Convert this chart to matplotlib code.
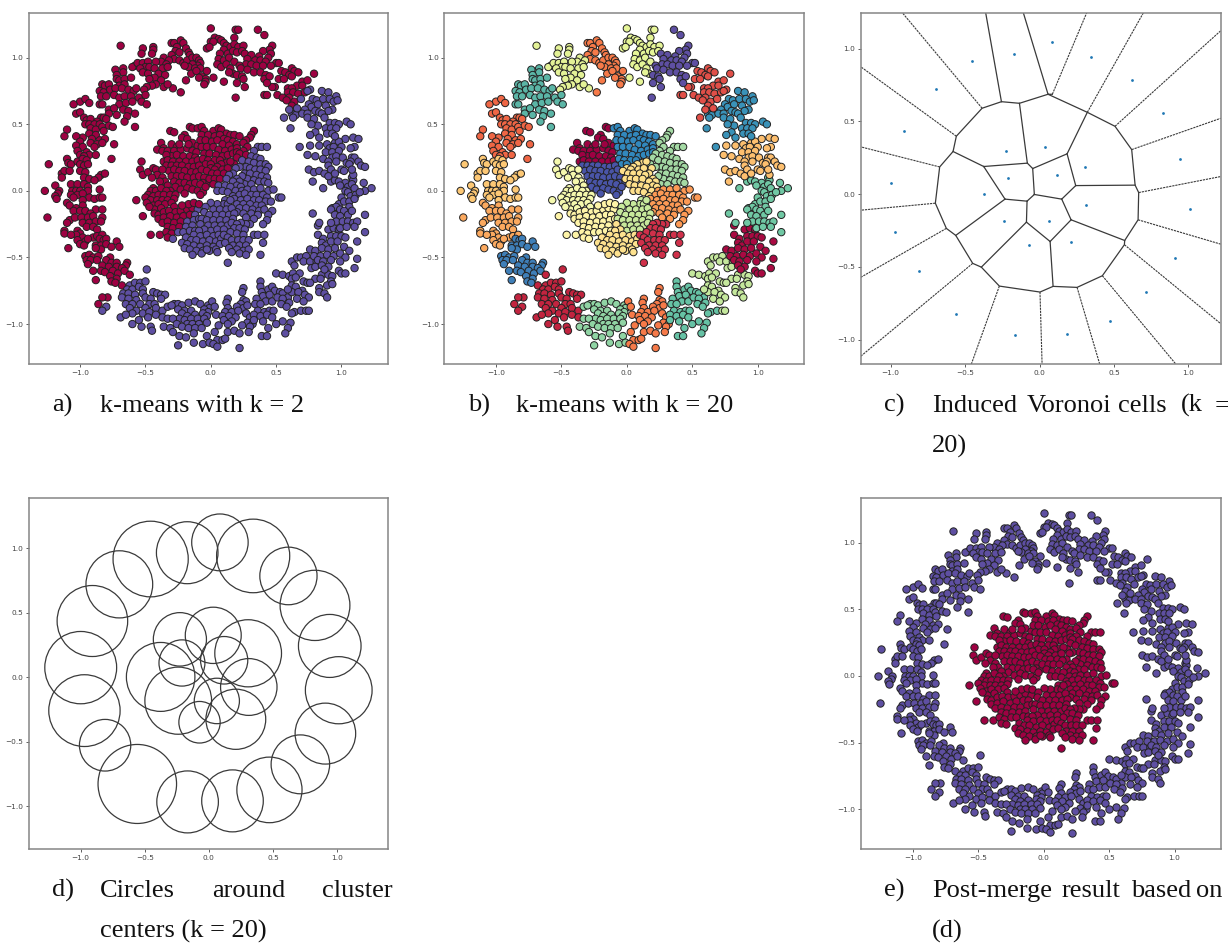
import matplotlib
matplotlib.use('Agg')
import matplotlib.pyplot as plt
import numpy as np

top_a = [(0.0,1.22),(0.19,1.21),(0.21,1.21),(0.18,1.15),(0.03,1.15),(0.06,1.14),(0.08,1.13),(0.0,1.12),(0.02,1.12),(-0.03,1.07),(-0.01,1.08),(0.1,1.11),(0.12,1.09),(0.15,1.08),(0.18,1.1),(0.21,1.08),(0.25,1.09),(0.1,1.06),(0.07,1.03),(0.13,1.03),(0.17,1.05),(0.2,1.04),(0.24,1.05),(0.06,0.99),(0.1,0.98),(0.14,1.0),(0.18,0.97),(0.05,0.95),(0.08,0.93),(0.12,0.95),(0.15,0.92),(0.02,0.85),(0.1,0.82),(0.17,0.88),(0.14,0.89)]
top_b = [(-0.3,1.11),(-0.28,1.11),(-0.23,1.13),(-0.21,1.11),(-0.26,1.08),(-0.27,1.05),(-0.24,1.04),(-0.19,1.07),(-0.17,1.04),(-0.16,1.02),(-0.3,1.02),(-0.28,0.99),(-0.24,0.98),(-0.21,0.96),(-0.18,0.98),(-0.14,1.0),(-0.11,1.0),(-0.09,0.98),(-0.08,0.96),(-0.1,0.94),(-0.14,0.95),(-0.17,0.93),(-0.2,0.94),(-0.12,0.92),(-0.08,0.92),(-0.03,0.9),(-0.15,0.88),(-0.11,0.9),(-0.07,0.86),(-0.04,0.84),(-0.04,0.82),(-0.19,0.83),(-0.09,0.85),(-0.23,0.74),(-0.05,0.8)]
top_c = [(-0.69,1.09),(-0.52,1.07),(-0.53,1.03),(-0.44,1.08),(-0.44,1.06),(-0.45,1.03),(-0.36,1.0),(-0.38,0.97),(-0.32,0.98),(-0.34,0.95),(-0.58,0.94),(-0.6,0.93),(-0.56,0.96),(-0.52,0.96),(-0.48,0.97),(-0.42,0.97),(-0.5,0.93),(-0.54,0.92),(-0.47,0.93),(-0.43,0.92),(-0.37,0.92),(-0.33,0.93),(-0.52,0.89),(-0.48,0.88),(-0.4,0.88),(-0.35,0.87),(-0.43,0.85),(-0.38,0.83),(-0.47,0.84),(-0.42,0.8),(-0.45,0.79),(-0.49,0.78),(-0.36,0.78),(-0.29,0.77),(-0.51,0.76),(-0.33,0.8)]
top_d = [(-0.73,0.91),(-0.67,0.92),(-0.67,0.89),(-0.72,0.87),(-0.72,0.84),(-0.7,0.83),(-0.66,0.84),(-0.61,0.85),(-0.83,0.8),(-0.81,0.79),(-0.78,0.8),(-0.7,0.79),(-0.66,0.8),(-0.85,0.75),(-0.82,0.74),(-0.77,0.76),(-0.73,0.77),(-0.68,0.77),(-0.63,0.76),(-0.59,0.75),(-0.57,0.77),(-0.84,0.71),(-0.8,0.71),(-0.74,0.72),(-0.7,0.7),(-0.66,0.71),(-0.61,0.71),(-0.55,0.7),(-0.5,0.72),(-0.85,0.65),(-0.83,0.65),(-0.7,0.65),(-0.65,0.66),(-0.6,0.67),(-0.53,0.67),(-0.49,0.65),(-0.78,0.61),(-0.74,0.62),(-0.67,0.61),(-0.63,0.6),(-0.78,0.58),(-0.72,0.57),(-0.64,0.56),(-0.58,0.58),(-0.66,0.52),(-0.58,0.48)]
left_a = [(-1.0,0.67),(-1.05,0.65),(-0.96,0.69),(-0.93,0.66),(-1.03,0.58),(-1.0,0.59),(-0.97,0.55),(-0.95,0.53),(-0.92,0.54),(-0.84,0.55),(-0.82,0.55),(-0.8,0.54),(-0.87,0.52),(-0.96,0.5),(-0.93,0.5),(-0.89,0.5),(-0.85,0.5),(-1.1,0.46),(-1.12,0.41),(-0.92,0.47),(-0.88,0.46),(-0.83,0.48),(-0.78,0.49),(-0.75,0.48),(-0.93,0.43),(-0.88,0.42),(-0.82,0.45),(-0.98,0.4),(-1.03,0.41),(-0.91,0.39),(-0.85,0.38),(-0.81,0.39),(-1.0,0.37),(-0.92,0.36),(-0.87,0.35),(-0.83,0.36),(-0.74,0.35),(-1.03,0.34),(-0.98,0.33),(-0.89,0.33),(-1.02,0.3),(-0.95,0.29),(-1.0,0.27),(-0.93,0.27),(-0.97,0.26),(-0.88,0.27),(-0.76,0.24)]
left_b = [(-1.24,0.2),(-1.1,0.24),(-1.09,0.21),(-1.07,0.2),(-1.02,0.22),(-0.98,0.24),(-0.95,0.23),(-1.0,0.2),(-0.97,0.19),(-0.94,0.2),(-1.14,0.13),(-1.12,0.15),(-1.08,0.15),(-1.14,0.1),(-1.0,0.15),(-0.96,0.14),(-0.84,0.12),(-0.81,0.13),(-0.86,0.1),(-0.97,0.1),(-0.93,0.09),(-0.89,0.08),(-1.19,0.04),(-1.07,0.05),(-1.02,0.05),(-0.97,0.05),(-0.94,0.03),(-1.27,0.0),(-1.16,-0.0),(-1.06,0.0),(-1.03,0.0),(-1.0,0.0),(-0.94,0.0),(-0.85,0.01),(-1.17,-0.02),(-1.19,-0.04),(-1.18,-0.06),(-1.07,-0.03),(-1.02,-0.03),(-0.98,-0.02),(-1.05,-0.05),(-0.93,-0.05),(-0.89,-0.06),(-0.85,-0.05),(-0.83,-0.05),(-0.98,-0.07)]
left_c = [(-1.1,-0.09),(-1.08,-0.11),(-1.03,-0.13),(-0.98,-0.11),(-1.25,-0.2),(-1.05,-0.15),(-1.0,-0.15),(-0.96,-0.15),(-0.88,-0.14),(-0.83,-0.14),(-0.92,-0.17),(-1.08,-0.22),(-1.1,-0.24),(-1.04,-0.2),(-0.99,-0.2),(-0.94,-0.2),(-0.9,-0.19),(-0.83,-0.2),(-0.98,-0.24),(-0.93,-0.24),(-0.88,-0.23),(-0.84,-0.23),(-0.95,-0.27),(-0.9,-0.27),(-0.87,-0.29),(-1.12,-0.3),(-1.12,-0.32),(-1.02,-0.3),(-1.0,-0.32),(-1.03,-0.33),(-0.98,-0.35),(-1.07,-0.33),(-0.96,-0.38),(-0.9,-0.35),(-0.87,-0.34),(-0.83,-0.33),(-1.02,-0.37),(-1.0,-0.4),(-0.97,-0.41),(-1.09,-0.43),(-0.94,-0.36)]
left_d = [(-0.85,-0.36),(-0.82,-0.37),(-0.8,-0.36),(-0.72,-0.38),(-0.88,-0.41),(-0.84,-0.41),(-0.8,-0.4),(-0.76,-0.42),(-0.7,-0.42),(-0.84,-0.44),(-0.88,-0.43),(-0.96,-0.49),(-0.93,-0.48),(-0.9,-0.5),(-0.86,-0.49),(-0.77,-0.5),(-0.95,-0.52),(-0.92,-0.52),(-0.87,-0.52),(-0.8,-0.52),(-0.76,-0.54),(-0.72,-0.54),(-0.64,-0.54),(-0.65,-0.56),(-0.94,-0.55),(-0.83,-0.56),(-0.78,-0.57),(-0.72,-0.57),(-0.68,-0.58),(-0.9,-0.6),(-0.84,-0.6),(-0.81,-0.61),(-0.75,-0.6),(-0.71,-0.62),(-0.66,-0.6),(-0.77,-0.64),(-0.72,-0.66),(-0.88,-0.67),(-0.76,-0.68),(-0.73,-0.69)]
bot_a = [(-0.62,-0.63),(-0.49,-0.59),(-0.68,-0.71),(-0.62,-0.71),(-0.58,-0.69),(-0.54,-0.69),(-0.5,-0.68),(-0.64,-0.74),(-0.6,-0.74),(-0.55,-0.72),(-0.52,-0.74),(-0.67,-0.77),(-0.63,-0.77),(-0.58,-0.78),(-0.52,-0.77),(-0.44,-0.76),(-0.41,-0.77),(-0.38,-0.78),(-0.35,-0.78),(-0.79,-0.8),(-0.83,-0.8),(-0.68,-0.8),(-0.63,-0.81),(-0.57,-0.82),(-0.5,-0.8),(-0.46,-0.81),(-0.38,-0.81),(-0.65,-0.85),(-0.6,-0.85),(-0.54,-0.85),(-0.47,-0.85),(-0.43,-0.85),(-0.86,-0.85),(-0.8,-0.87),(-0.83,-0.9),(-0.62,-0.88),(-0.57,-0.9),(-0.5,-0.88),(-0.42,-0.88),(-0.37,-0.9),(-0.6,-0.92),(-0.52,-0.92),(-0.47,-0.91),(-0.42,-0.93),(-0.37,-0.95),(-0.69,-0.95),(-0.65,-0.93),(-0.55,-0.97),(-0.48,-0.95),(-0.6,-1.0),(-0.53,-1.02),(-0.46,-1.02),(-0.45,-1.05)]
bot_b = [(-0.28,-0.85),(-0.25,-0.85),(-0.22,-0.86),(-0.33,-0.87),(-0.3,-0.86),(-0.17,-0.84),(-0.12,-0.83),(-0.08,-0.85),(-0.02,-0.86),(-0.01,-0.88),(-0.25,-0.89),(-0.2,-0.9),(-0.15,-0.9),(-0.05,-0.89),(-0.02,-0.91),(-0.22,-0.92),(-0.18,-0.94),(-0.12,-0.93),(-0.06,-0.92),(-0.03,-0.94),(-0.24,-0.96),(-0.2,-0.97),(-0.15,-0.96),(-0.1,-0.96),(-0.05,-0.96),(-0.33,-0.96),(-0.29,-0.96),(-0.26,-1.0),(-0.18,-1.0),(-0.14,-1.0),(-0.09,-1.0),(-0.03,-0.99),(-0.36,-1.02),(-0.31,-1.03),(-0.29,-1.06),(-0.22,-1.02),(-0.17,-1.03),(-0.12,-1.03),(-0.07,-1.03),(-0.24,-1.09),(-0.19,-1.1),(-0.13,-1.07),(-0.13,-1.14),(-0.25,-1.16),(-0.06,-1.15),(-0.03,-1.09),(-0.01,-1.14)]
bot_c = [(0.25,-0.73),(0.24,-0.76),(0.13,-0.81),(0.12,-0.84),(0.25,-0.82),(0.27,-0.83),(0.23,-0.85),(0.13,-0.88),(0.2,-0.87),(0.25,-0.88),(0.28,-0.86),(0.01,-0.83),(0.03,-0.87),(0.11,-0.91),(0.16,-0.91),(0.21,-0.9),(0.27,-0.92),(0.04,-0.93),(0.09,-0.94),(0.14,-0.94),(0.19,-0.95),(0.3,-0.95),(0.1,-0.97),(0.16,-0.98),(0.28,-0.99),(0.32,-1.0),(0.06,-1.01),(0.13,-1.0),(0.24,-1.01),(0.3,-1.02),(0.03,-1.06),(0.13,-1.06),(0.18,-1.05),(0.22,-1.07),(0.29,-1.06),(0.05,-1.12),(0.09,-1.12),(0.11,-1.11),(0.02,-1.15),(0.05,-1.17),(0.22,-1.18)]
bot_d = [(0.38,-0.68),(0.38,-0.72),(0.39,-0.76),(0.44,-0.74),(0.47,-0.72),(0.49,-0.75),(0.4,-0.79),(0.45,-0.78),(0.53,-0.76),(0.55,-0.77),(0.59,-0.8),(0.35,-0.81),(0.42,-0.83),(0.47,-0.83),(0.51,-0.8),(0.55,-0.81),(0.6,-0.84),(0.34,-0.85),(0.38,-0.85),(0.54,-0.85),(0.58,-0.87),(0.64,-0.91),(0.36,-0.9),(0.41,-0.91),(0.45,-0.9),(0.48,-0.9),(0.33,-0.93),(0.38,-0.94),(0.43,-0.93),(0.47,-0.95),(0.62,-0.92),(0.33,-0.97),(0.4,-0.98),(0.55,-0.98),(0.61,-0.99),(0.5,-1.0),(0.44,-1.03),(0.39,-1.09),(0.43,-1.09),(0.59,-1.03),(0.57,-1.07),(0.69,-0.9)]
right_a = [(0.62,-0.53),(0.66,-0.5),(0.69,-0.5),(0.73,-0.49),(0.64,-0.56),(0.71,-0.53),(0.76,-0.53),(0.81,-0.53),(0.5,-0.62),(0.55,-0.63),(0.6,-0.64),(0.63,-0.62),(0.68,-0.62),(0.77,-0.58),(0.8,-0.57),(0.62,-0.66),(0.65,-0.65),(0.71,-0.68),(0.74,-0.69),(0.8,-0.66),(0.85,-0.63),(0.9,-0.63),(0.62,-0.71),(0.65,-0.72),(0.7,-0.75),(0.76,-0.69),(0.84,-0.66),(0.93,-0.64),(0.92,-0.68),(0.62,-0.76),(0.67,-0.76),(0.72,-0.78),(0.75,-0.8),(0.83,-0.73),(0.89,-0.71),(0.93,-0.7),(0.66,-0.81),(0.71,-0.83),(0.83,-0.76),(0.87,-0.77),(0.89,-0.8),(0.73,-0.9),(0.75,-0.9),(0.59,-0.74)]
right_b = [(0.82,-0.26),(0.9,-0.29),(0.94,-0.28),(0.98,-0.29),(0.82,-0.33),(0.86,-0.36),(0.92,-0.34),(0.96,-0.34),(1.0,-0.34),(1.03,-0.35),(1.12,-0.38),(0.85,-0.39),(0.88,-0.41),(0.92,-0.38),(0.97,-0.38),(1.02,-0.42),(0.76,-0.44),(0.8,-0.45),(0.85,-0.43),(0.9,-0.44),(0.95,-0.43),(1.06,-0.45),(0.79,-0.49),(0.84,-0.49),(0.89,-0.48),(0.94,-0.49),(0.99,-0.47),(1.03,-0.5),(1.12,-0.51),(0.82,-0.52),(0.86,-0.53),(0.92,-0.52),(0.99,-0.53),(0.85,-0.56),(0.9,-0.57),(0.98,-0.6),(1.0,-0.62),(1.03,-0.62),(1.1,-0.58),(0.87,-0.59)]
right_c = [(0.92,0.07),(0.95,0.08),(0.98,0.07),(1.03,0.06),(1.08,0.1),(1.09,0.08),(0.86,0.02),(0.99,0.04),(1.05,0.03),(1.08,0.05),(1.17,0.06),(1.03,0.0),(1.05,-0.01),(1.1,0.02),(1.18,0.0),(1.23,0.02),(1.0,-0.05),(1.07,-0.04),(1.11,-0.03),(1.14,-0.01),(0.98,-0.1),(1.02,-0.08),(1.06,-0.08),(1.1,-0.06),(0.93,-0.13),(0.96,-0.12),(0.99,-0.14),(1.06,-0.12),(1.02,-0.15),(0.78,-0.17),(0.92,-0.14),(0.95,-0.18),(0.99,-0.19),(1.05,-0.18),(1.08,-0.15),(1.18,-0.18),(0.96,-0.23),(1.01,-0.23),(1.05,-0.23),(1.09,-0.24),(1.12,-0.23),(0.83,-0.24),(0.92,-0.24),(0.99,-0.28),(1.1,-0.27),(1.18,-0.31),(1.04,-0.27)]
right_d = [(1.03,0.39),(1.09,0.4),(1.13,0.39),(0.95,0.36),(0.98,0.37),(1.0,0.33),(0.76,0.34),(0.83,0.34),(0.89,0.35),(0.91,0.32),(0.94,0.33),(1.1,0.33),(1.07,0.32),(0.88,0.29),(0.93,0.29),(0.98,0.3),(0.74,0.27),(0.8,0.26),(0.93,0.25),(0.96,0.26),(1.01,0.25),(1.08,0.25),(1.1,0.25),(0.86,0.24),(0.9,0.22),(0.96,0.22),(1.04,0.21),(1.07,0.22),(1.13,0.22),(1.15,0.19),(1.18,0.18),(0.9,0.19),(1.0,0.16),(1.02,0.15),(1.06,0.2),(0.75,0.16),(0.79,0.14),(0.83,0.15),(0.87,0.13),(0.92,0.16),(0.9,0.11),(0.95,0.13),(1.09,0.12),(1.08,0.16),(0.78,0.07)]
upper_a = [(0.85,0.75),(0.9,0.74),(0.96,0.71),(0.78,0.69),(0.81,0.68),(0.86,0.69),(0.91,0.69),(0.94,0.67),(0.97,0.68),(0.75,0.65),(0.77,0.63),(0.82,0.65),(0.88,0.64),(0.93,0.61),(0.72,0.61),(0.8,0.6),(0.83,0.59),(0.9,0.6),(0.62,0.58),(0.65,0.57),(0.7,0.58),(0.74,0.58),(0.85,0.58),(0.63,0.55),(0.74,0.55),(0.79,0.54),(0.87,0.55),(0.91,0.51),(0.95,0.51),(0.98,0.5),(0.82,0.49),(0.77,0.5),(0.88,0.47),(0.92,0.47),(0.96,0.47),(0.61,0.47),(0.8,0.44),(0.76,0.42),(0.89,0.43),(0.93,0.43),(0.83,0.4),(0.95,0.41),(1.04,0.52),(1.07,0.5),(0.68,0.33)]
upper_b = [(0.79,0.88),(0.54,0.9),(0.62,0.92),(0.64,0.9),(0.67,0.89),(0.57,0.89),(0.6,0.87),(0.52,0.84),(0.56,0.84),(0.62,0.86),(0.7,0.82),(0.74,0.83),(0.66,0.79),(0.7,0.79),(0.59,0.77),(0.62,0.77),(0.76,0.76),(0.59,0.74),(0.63,0.74),(0.67,0.73),(0.72,0.74),(0.74,0.75),(0.41,0.72),(0.43,0.72),(0.51,0.72),(0.55,0.7),(0.6,0.7),(0.64,0.67),(0.69,0.69),(0.62,0.64),(0.56,0.55),(0.49,0.78),(0.47,0.78),(0.66,0.62),(0.58,0.68),(0.6,0.61)]
upper_c = [(0.36,1.21),(0.41,1.17),(0.47,1.09),(0.45,1.06),(0.4,1.05),(0.26,1.03),(0.31,1.02),(0.37,1.01),(0.46,1.03),(0.44,1.0),(0.28,0.99),(0.34,0.98),(0.38,0.98),(0.42,0.97),(0.5,0.96),(0.52,0.96),(0.27,0.95),(0.31,0.95),(0.35,0.94),(0.4,0.94),(0.46,0.94),(0.22,0.94),(0.23,0.92),(0.28,0.91),(0.33,0.89),(0.38,0.89),(0.42,0.87),(0.2,0.87),(0.24,0.86),(0.41,0.84),(0.45,0.86),(0.43,0.81),(0.2,0.81),(0.25,0.84),(0.26,0.78),(0.19,0.7)]
inner_a = [(-0.31,0.45),(-0.28,0.44),(-0.16,0.48),(-0.14,0.47),(-0.2,0.42),(-0.22,0.4),(-0.38,0.36),(-0.36,0.32),(-0.41,0.31),(-0.3,0.35),(-0.26,0.33),(-0.18,0.39),(-0.14,0.36),(-0.1,0.34),(-0.37,0.3),(-0.33,0.3),(-0.28,0.3),(-0.23,0.31),(-0.18,0.32),(-0.14,0.3),(-0.11,0.29),(-0.3,0.26),(-0.26,0.27),(-0.21,0.26),(-0.16,0.26),(-0.12,0.25),(-0.34,0.27),(-0.36,0.22),(-0.33,0.23),(-0.29,0.22),(-0.24,0.22),(-0.19,0.22),(-0.14,0.22),(-0.1,0.23),(-0.17,0.35),(-0.24,0.35)]
inner_b = [(-0.1,0.47),(-0.07,0.48),(-0.05,0.45),(0.02,0.45),(0.06,0.47),(0.08,0.46),(0.12,0.43),(0.15,0.42),(0.18,0.42),(0.22,0.41),(-0.07,0.42),(-0.02,0.42),(0.03,0.41),(0.07,0.42),(0.1,0.39),(0.13,0.38),(0.17,0.37),(-0.08,0.38),(-0.04,0.38),(0.01,0.37),(0.05,0.38),(0.09,0.35),(0.14,0.34),(0.2,0.35),(-0.07,0.33),(-0.03,0.33),(0.02,0.33),(0.06,0.31),(0.11,0.3),(0.16,0.31),(0.2,0.32),(-0.05,0.28),(-0.01,0.28),(0.04,0.27),(0.09,0.26),(0.13,0.27),(0.17,0.28),(0.2,0.29),(-0.06,0.24),(-0.02,0.23),(0.03,0.23),(0.07,0.23),(-0.04,0.2),(0.0,0.2)]
inner_c = [(0.33,0.45),(0.31,0.42),(0.3,0.4),(0.27,0.38),(0.25,0.36),(0.36,0.33),(0.39,0.33),(0.43,0.33),(0.28,0.33),(0.33,0.3),(0.25,0.3),(0.22,0.28),(0.27,0.27),(0.31,0.26),(0.35,0.25),(0.38,0.24),(0.2,0.25),(0.24,0.23),(0.29,0.22),(0.33,0.21),(0.38,0.2),(0.42,0.2),(0.44,0.18),(0.27,0.18),(0.3,0.17),(0.34,0.16),(0.38,0.16),(0.42,0.15),(0.26,0.13),(0.3,0.13),(0.35,0.12),(0.39,0.11),(0.43,0.1),(0.28,0.09),(0.33,0.08),(0.37,0.07),(0.41,0.07),(0.26,0.05),(0.31,0.05),(0.44,0.06),(0.18,0.2),(0.22,0.18),(0.24,0.11)]
inner_d = [(-0.34,0.19),(-0.3,0.19),(-0.26,0.19),(-0.22,0.19),(-0.17,0.18),(-0.13,0.18),(-0.09,0.19),(-0.32,0.15),(-0.28,0.16),(-0.24,0.15),(-0.2,0.15),(-0.15,0.14),(-0.11,0.14),(-0.07,0.16),(-0.3,0.11),(-0.26,0.11),(-0.22,0.11),(-0.18,0.1),(-0.13,0.1),(-0.09,0.11),(-0.05,0.1),(-0.06,0.06),(-0.28,0.07),(-0.24,0.06),(-0.2,0.06),(-0.16,0.05),(-0.12,0.06),(-0.08,0.05),(-0.27,0.03),(-0.23,0.01),(-0.18,0.02),(-0.14,0.01),(-0.1,0.0),(-0.06,-0.01),(-0.2,-0.02),(-0.01,0.06),(-0.04,0.03),(-0.08,-0.03)]
inner_e = [(0.12,0.21),(0.15,0.22),(0.19,0.17),(0.08,0.2),(0.05,0.18),(0.0,0.17),(-0.03,0.15),(0.03,0.16),(0.09,0.16),(0.13,0.17),(0.17,0.13),(0.01,0.13),(0.05,0.13),(0.1,0.13),(0.14,0.12),(0.2,0.09),(0.22,0.07),(-0.01,0.09),(0.03,0.09),(0.07,0.09),(0.12,0.09),(0.17,0.07),(0.2,0.04),(0.23,0.03),(0.02,0.05),(0.06,0.04),(0.11,0.04),(0.15,0.03),(0.19,0.0),(0.05,0.0),(0.09,-0.0),(0.13,-0.01),(0.17,-0.04)]
inner_f = [(-0.53,0.22),(-0.54,0.16),(-0.52,0.12),(-0.48,0.14),(-0.44,0.17),(-0.42,0.16),(-0.41,0.12),(-0.37,0.16),(-0.37,0.1),(-0.35,0.07),(-0.45,0.1),(-0.39,0.07),(-0.33,0.04),(-0.31,0.0),(-0.44,0.02),(-0.46,0.0),(-0.42,0.0),(-0.38,0.02),(-0.34,0.0),(-0.48,-0.03),(-0.44,-0.04),(-0.4,-0.03),(-0.36,-0.03),(-0.31,-0.03),(-0.27,-0.03),(-0.57,-0.07),(-0.5,-0.05),(-0.46,-0.07),(-0.41,-0.07),(-0.37,-0.07),(-0.33,-0.07),(-0.28,-0.06),(-0.49,-0.09),(-0.44,-0.11),(-0.4,-0.1),(-0.35,-0.1),(-0.3,-0.09),(-0.43,-0.14),(-0.38,-0.13),(-0.47,-0.12),(-0.28,-0.12)]
inner_g = [(0.24,0.0),(0.28,0.01),(0.33,0.01),(0.38,0.02),(0.44,0.0),(0.48,0.01),(0.22,-0.03),(0.26,-0.02),(0.31,-0.03),(0.35,-0.03),(0.4,-0.03),(0.43,-0.05),(0.52,-0.05),(0.54,-0.05),(0.18,-0.06),(0.23,-0.07),(0.28,-0.06),(0.33,-0.07),(0.37,-0.07),(0.42,-0.08),(0.46,-0.08),(0.2,-0.1),(0.25,-0.1),(0.3,-0.1),(0.35,-0.11),(0.39,-0.11),(0.22,-0.13),(0.27,-0.13),(0.32,-0.14),(0.37,-0.15),(0.41,-0.14),(0.47,-0.15),(0.2,-0.16),(0.25,-0.17),(0.31,-0.17),(0.36,-0.18),(0.44,-0.18),(0.43,-0.22),(0.27,-0.2),(0.33,-0.21),(0.4,-0.25)]
inner_h = [(-0.52,-0.19),(-0.43,-0.17),(-0.4,-0.18),(-0.36,-0.16),(-0.32,-0.15),(-0.27,-0.16),(-0.23,-0.15),(-0.18,-0.14),(-0.14,-0.13),(-0.1,-0.14),(-0.4,-0.21),(-0.36,-0.2),(-0.31,-0.19),(-0.26,-0.2),(-0.21,-0.19),(-0.16,-0.18),(-0.12,-0.18),(-0.37,-0.24),(-0.33,-0.23),(-0.28,-0.24),(-0.23,-0.23),(-0.18,-0.23),(-0.13,-0.22),(-0.09,-0.21),(-0.33,-0.27),(-0.29,-0.28),(-0.24,-0.27),(-0.19,-0.27),(-0.14,-0.26),(-0.46,-0.33),(-0.39,-0.33),(-0.34,-0.31),(-0.3,-0.32),(-0.25,-0.31),(-0.21,-0.31),(-0.16,-0.3),(-0.33,-0.35),(-0.29,-0.36),(-0.12,-0.3),(-0.17,-0.1),(-0.22,-0.11),(-0.13,-0.09),(-0.09,-0.1)]
inner_i = [(0.11,-0.07),(0.1,-0.1),(0.13,-0.1),(0.15,-0.07),(0.05,-0.1),(0.0,-0.09),(-0.04,-0.12),(0.02,-0.14),(0.07,-0.14),(0.12,-0.14),(0.16,-0.13),(-0.05,-0.16),(-0.01,-0.18),(0.04,-0.18),(0.09,-0.18),(0.14,-0.18),(0.18,-0.17),(-0.07,-0.21),(-0.03,-0.22),(0.02,-0.22),(0.07,-0.22),(0.12,-0.22),(0.17,-0.21),(-0.02,-0.26),(0.03,-0.26),(0.08,-0.26),(0.13,-0.26),(0.16,-0.24),(0.0,-0.3),(0.05,-0.29),(0.1,-0.29)]
inner_j = [(-0.08,-0.25),(-0.05,-0.29),(-0.09,-0.3),(-0.13,-0.33),(-0.08,-0.34),(-0.03,-0.33),(0.02,-0.34),(0.06,-0.33),(-0.19,-0.35),(-0.15,-0.37),(-0.11,-0.37),(-0.06,-0.38),(-0.01,-0.37),(0.04,-0.38),(0.08,-0.36),(-0.22,-0.39),(-0.18,-0.4),(-0.13,-0.41),(-0.08,-0.42),(-0.03,-0.41),(0.02,-0.42),(0.07,-0.4),(-0.2,-0.43),(-0.16,-0.44),(-0.11,-0.45),(-0.06,-0.45),(-0.01,-0.45),(0.04,-0.44),(-0.14,-0.48),(-0.07,-0.47),(0.05,-0.46),(-0.03,-0.44)]
inner_k = [(0.3,-0.25),(0.27,-0.25),(0.23,-0.24),(0.2,-0.25),(0.18,-0.28),(0.22,-0.28),(0.26,-0.29),(0.15,-0.31),(0.1,-0.33),(0.13,-0.35),(0.2,-0.32),(0.25,-0.33),(0.33,-0.33),(0.36,-0.33),(0.41,-0.33),(0.16,-0.37),(0.21,-0.37),(0.25,-0.37),(0.29,-0.37),(0.4,-0.39),(0.11,-0.39),(0.17,-0.41),(0.22,-0.41),(0.27,-0.41),(0.14,-0.43),(0.2,-0.44),(0.25,-0.45),(0.29,-0.44),(0.16,-0.46),(0.22,-0.47),(0.27,-0.48),(0.38,-0.48),(0.13,-0.54)]

outer_clusters = [top_a, top_b, top_c, top_d, left_a, left_b, left_c, left_d, bot_a, bot_b, bot_c, bot_d,
                  right_a, right_b, right_c, right_d, upper_a, upper_b, upper_c]
outer_colors = ['#e6f598', '#f67a49', '#e4f297', '#5bb5a6', '#ef6645', '#fdc875', '#fba95f', '#3f7fb8', '#c2243f',
                '#90d4a4', '#f67a49', '#66c2a5', '#c5e89d', '#a90a42', '#70c8a4', '#fdbf6f', '#3a92b8', '#e04f48', '#5e4fa2']
inner_clusters = [inner_a, inner_b, inner_c, inner_d, inner_e, inner_f, inner_g, inner_h, inner_i, inner_j, inner_k]
inner_colors = ['#9e0142', '#3288bd', '#a4d9a4', '#4a55a8', '#fee08b', '#f5f9ae', '#fd9a55', '#fef4a8', '#c8e99c', '#fee28f', '#d0304a']

# cluster centres and radii from the circle panel
centre_x = [0.086, -0.169, -0.454, -0.698, -0.908, -0.999, -0.97, -0.809, -0.558, -0.166, 0.184, 0.472, 0.713, 0.908, 1.012, 0.942, 0.827, 0.62, 0.345,
            -0.226, 0.034, 0.306, -0.21, 0.119, -0.376, 0.311, -0.239, 0.062, -0.073, 0.21]
centre_y = [1.045, 0.965, 0.916, 0.72, 0.436, 0.075, -0.258, -0.526, -0.826, -0.965, -0.957, -0.872, -0.674, -0.436, -0.1, 0.243, 0.557, 0.785, 0.94,
            0.294, 0.325, 0.186, 0.111, 0.132, 0.003, -0.075, -0.181, -0.183, -0.348, -0.325]
radius = [0.22, 0.24, 0.293, 0.26, 0.275, 0.28, 0.278, 0.2, 0.306, 0.24, 0.24, 0.254, 0.228, 0.236, 0.26, 0.244, 0.272, 0.223, 0.285,
          0.207, 0.218, 0.26, 0.179, 0.184, 0.267, 0.22, 0.26, 0.176, 0.161, 0.233]

# Voronoi vertices and edges, panel c
verts = {'a': (0.086,0.686), 'b': (0.057,0.686), 'c': (0.321,0.562), 'd': (0.507,0.466), 'e': (0.619,0.306), 'f': (0.642,0.062),
         'g': (0.666,0.011), 'h': (0.662,-0.176), 'i': (0.572,-0.318), 'j': (0.570,-0.347), 'k': (0.422,-0.56), 'l': (0.252,-0.64),
         'm': (0.091,-0.633), 'n': (0.003,-0.672), 'o': (-0.27,-0.631), 'p': (-0.391,-0.501), 'q': (-0.449,-0.475), 'r': (-0.563,-0.283),
         's': (-0.626,-0.235), 't': (-0.70,-0.062), 'u': (-0.671,0.187), 'v': (-0.581,0.293), 'w': (-0.559,0.398), 'x': (-0.386,0.59),
         'y': (-0.256,0.635), 'z': (-0.135,0.624),
         'A': (-0.082,0.213), 'B': (-0.375,0.19), 'C': (-0.232,-0.034), 'D': (-0.084,-0.048), 'E': (-0.035,-0.002), 'F': (-0.046,0.176),
         'G': (0.185,0.277), 'H': (0.243,0.059), 'I': (0.149,-0.034), 'J': (0.212,-0.176), 'K': (0.071,-0.325), 'L': (-0.088,-0.192)}
ring = 'abcdefghijklmnopqrstuvwxyzb'
inner_edges = ['zA', 'AB', 'Bv', 'BC', 'Cr', 'CD', 'DE', 'EF', 'FA', 'FG', 'Gc', 'GH', 'Hf', 'HI', 'IE', 'IJ', 'Ji', 'JK', 'KL', 'LD', 'Lp', 'Km']
solid_rays = [('y', -0.362, 1.246), ('b', -0.109, 1.246)]
dashed_rays = [('a', 0.317, 1.246), ('c', 0.698, 1.246), ('d', 1.217, 1.122), ('e', 1.217, 0.521), ('g', 1.217, 0.121), ('h', 1.217, -0.343),
               ('j', 1.217, -0.889), ('k', 0.915, -1.166), ('l', 0.404, -1.166), ('n', 0.017, -1.166), ('o', -0.458, -1.166), ('q', -1.2015, -1.113),
               ('s', -1.2015, -0.571), ('t', -1.2015, -0.11), ('u', -1.2015, 0.325), ('w', -1.2015, 0.875), ('x', -0.922, 1.246)]

W, H = 1228, 943
RED, PURPLE = '#9e0142', '#5e4fa2'
ticks = [-1.0, -0.5, 0.0, 0.5, 1.0]

plt.rcParams['axes.edgecolor'] = '#858585'
plt.rcParams['axes.linewidth'] = 1.1
plt.rcParams['xtick.color'] = '#444444'
plt.rcParams['ytick.color'] = '#444444'

fig = plt.figure(figsize=(W / 100, H / 100), dpi=100)


def panel(left, top, right, bottom, xlim, ylim):
    ax = fig.add_axes([left / W, 1 - bottom / H, (right - left) / W, (bottom - top) / H])
    ax.set_xlim(*xlim)
    ax.set_ylim(*ylim)
    ax.set_xticks(ticks)
    ax.set_yticks(ticks)
    ax.tick_params(labelsize=5.3, length=2, width=0.6, pad=2)
    return ax


def caption(x, y, s):
    fig.text(x / W, 1 - y / H, s, family='Liberation Serif', fontsize=19, color='#111111', va='baseline')


outer = np.array(sum(outer_clusters, []))
inner = np.array(sum(inner_clusters, []))
pts = np.vstack([outer, inner])
point_colors = []
for cl, col in zip(outer_clusters + inner_clusters, outer_colors + inner_colors):
    point_colors += [col] * len(cl)

# a) two means, split along a line through the middle
ax = panel(28.5, 12.7, 388, 364, (-1.395, 1.356), (-1.30, 1.338))
upper = pts[:, 1] > 1.05 * pts[:, 0] - 0.02
ax.scatter(pts[:, 0], pts[:, 1], s=28, c=np.where(upper, RED, PURPLE), edgecolors='#222222', linewidths=0.7)

# b) twenty means
ax = panel(444.3, 12.7, 804.3, 364, (-1.395, 1.356), (-1.30, 1.338))
ax.scatter(pts[:, 0], pts[:, 1], s=28, c=point_colors, edgecolors='#222222', linewidths=0.7)

# c) Voronoi cells
ax = panel(860.7, 12.7, 1220.7, 364, (-1.2015, 1.217), (-1.166, 1.246))
ax.plot(*zip(*[verts[k] for k in ring]), color='#3a3a3a', lw=0.9)
for e in inner_edges:
    ax.plot(*zip(verts[e[0]], verts[e[1]]), color='#3a3a3a', lw=0.9)
for k, x, y in solid_rays:
    ax.plot([verts[k][0], x], [verts[k][1], y], color='#3a3a3a', lw=0.9)
for k, x, y in dashed_rays:
    ax.plot([verts[k][0], x], [verts[k][1], y], color='#3a3a3a', lw=0.8, ls=(0, (2, 0.8)))
ax.scatter(centre_x, centre_y, s=4, color='#1f77b4', linewidths=0)

# d) circles
ax = panel(28.5, 497.7, 388, 849.3, (-1.406, 1.396), (-1.332, 1.391))
for cx, cy, r in zip(centre_x, centre_y, radius):
    ax.add_patch(plt.Circle((cx, cy), r, fill=False, edgecolor='#3a3a3a', lw=0.9))

# e) merged
ax = panel(860.7, 497.7, 1220.7, 849.3, (-1.399, 1.353), (-1.30, 1.3375))
ax.scatter(outer[:, 0], outer[:, 1], s=28, c=PURPLE, edgecolors='#222222', linewidths=0.7)
ax.scatter(inner[:, 0], inner[:, 1], s=28, c=RED, edgecolors='#222222', linewidths=0.7)

caption(52, 412, 'a)')
caption(100, 412, 'k-means with k = 2')
caption(468, 412, 'b)')
caption(516, 412, 'k-means with k = 20')
caption(884, 412, 'c)')
for x, word in zip([932, 1027, 1118, 1181, 1215], ['Induced', 'Voronoi', 'cells', '(k', '=']):
    caption(x, 412, word)
caption(932, 453, '20)')
caption(52, 897, 'd)')
for x, word in zip([100, 212, 322], ['Circles', 'around', 'cluster']):
    caption(x, 897, word)
caption(100, 938, 'centers (k = 20)')
caption(884, 897, 'e)')
for x, word in zip([932, 1062, 1131, 1196], ['Post-merge', 'result', 'based', 'on']):
    caption(x, 897, word)
caption(932, 938, '(d)')

fig.savefig('out.png', dpi=100)
